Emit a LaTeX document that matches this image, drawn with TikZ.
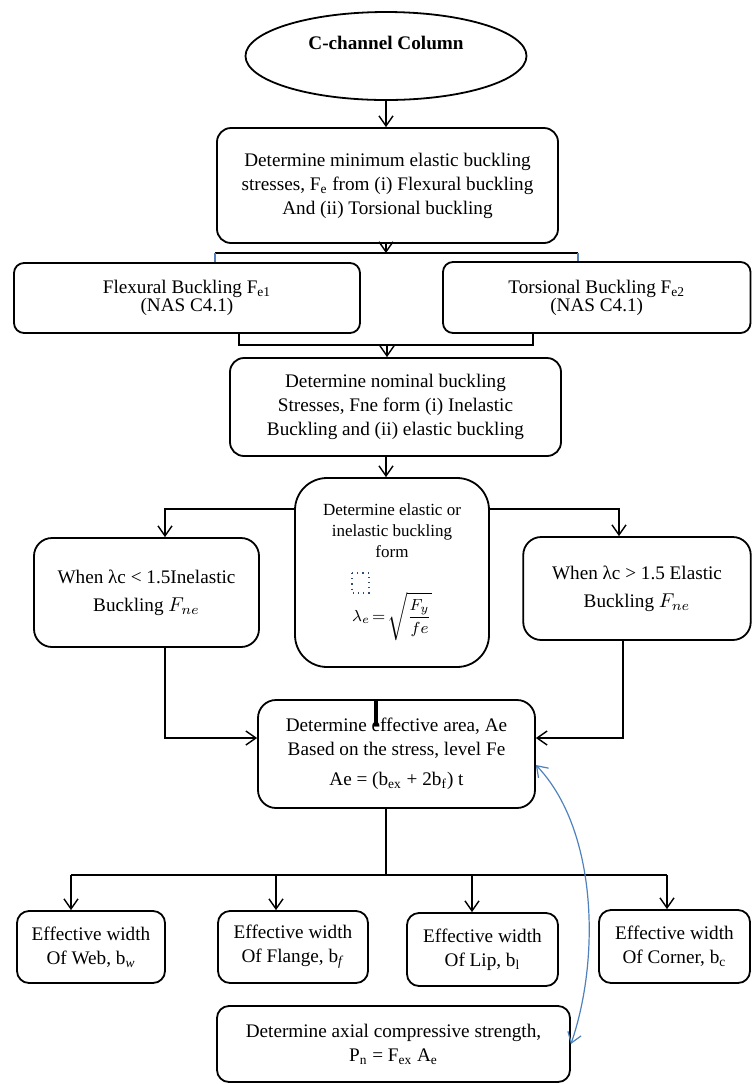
\documentclass[tikz,border=0pt]{standalone}
\usepackage{fontspec}
\setmainfont{Liberation Serif}
\usetikzlibrary{shapes.geometric,arrows.meta}
\definecolor{wordblue}{HTML}{4F81BD}

\begin{document}
\begin{tikzpicture}[x=0.5pt,y=-0.5pt,
  every node/.style={font=\fontsize{9.6}{12}\selectfont, align=center, inner sep=0pt},
  box/.style 2 args={draw, line width=0.9pt, rounded corners=7pt, minimum width=#1*0.5pt, minimum height=#2*0.5pt},
  arr/.style={line width=0.7pt, -{Straight Barb[length=5pt,width=7pt]}},
  link/.style={line width=0.7pt},
  tick/.style={wordblue, line width=0.6pt},
  back/.style={wordblue, line width=0.6pt, {Straight Barb[length=5pt,width=7pt]}-{Straight Barb[length=5pt,width=7pt]}}]
  \useasboundingbox (0,0) rectangle (752,1084);

  \node[draw, ellipse, line width=0.9pt, minimum width=140.5pt, minimum height=44pt,
        font=\fontsize{9.6}{12}\selectfont\bfseries] (col) at (386,56) {\raisebox{13pt}{C-channel Column}};
  \node[box={341}{115}] (minst) at (387.5,185.5) {Determine minimum elastic buckling\\stresses, F\textsubscript{e} from (i) Flexural buckling\\And (ii) Torsional buckling};
  \node[box={346}{70}, rounded corners=5pt, font=\fontsize{9.6}{9}\selectfont] (flex) at (187,298) {Flexural Buckling F\textsubscript{e1}\\(NAS C4.1)};
  \node[box={307.5}{71}, rounded corners=5pt, font=\fontsize{9.6}{9}\selectfont] (tors) at (596.75,297.5) {Torsional Buckling F\textsubscript{e2}\\(NAS C4.1)};
  \node[box={331}{98}] (nom) at (395.5,407) {Determine nominal buckling\\Stresses, Fne form (i) Inelastic\\Buckling and (ii) elastic buckling};
  \node[box={194}{189}, rounded corners=16pt, font=\fontsize{8.5}{10.5}\selectfont] (dec) at (392,572.5)
    {Determine elastic or\\inelastic buckling\\form\\[16pt]$\lambda_e\!=\!\sqrt{\displaystyle\frac{F_y}{fe}}$};
  \node[box={225}{109}, rounded corners=9pt] (inel) at (146.5,592.5) {When λc < 1.5Inelastic\\[2pt]Buckling $F_{ne}$};
  \node[box={227.5}{103}, rounded corners=9pt] (elas) at (637,588.5) {When λc > 1.5 Elastic\\[2pt]Buckling $F_{ne}$};
  \node[box={277}{108}, rounded corners=9pt] (ea) at (396.5,754) {Determine effective area, Ae\\Based on the stress, level Fe\\[3pt]Ae = (b\textsubscript{ex} + 2b\textsubscript{f}) t};
  \node[box={148}{72}, rounded corners=6pt] (web) at (91,947) {Effective width\\Of Web, b\textsubscript{\textit{w}}};
  \node[box={150}{72}, rounded corners=6pt] (flan) at (293,947) {Effective width\\Of Flange, b\textsubscript{\textit{f}}};
  \node[box={151}{73}, rounded corners=6pt] (lip) at (482.5,949.5) {Effective width\\Of Lip, b\textsubscript{l}};
  \node[box={151}{73}, rounded corners=6pt] (corn) at (674.5,946.5) {Effective width\\Of Corner, b\textsubscript{c}};
  \node[box={353}{76}, rounded corners=6pt] (axial) at (393.5,1044) {Determine axial compressive strength,\\P\textsubscript{n} = F\textsubscript{ex} A\textsubscript{e}};

  \draw[dotted, wordblue!60!black, line width=0.6pt] (352,573) rectangle (369,593);

  \coordinate (tl) at (215,253);
  \coordinate (tr) at (578,253);
  \coordinate (tm) at (386,253);
  \coordinate (bl) at (239,345);
  \coordinate (br) at (533,345);
  \coordinate (bm) at (387,345);
  \coordinate (dl) at (165,509);
  \coordinate (dr) at (619,509);
  \coordinate (il) at (165,738);
  \coordinate (ir) at (623,738);
  \coordinate (stub) at (376,726);
  \coordinate (hb) at (386,875);
  \coordinate (hl) at (71,875);
  \coordinate (hr) at (667,875);

  \draw[arr] (col) -- (col |- minst.north);
  \draw[arr] (minst.south -| tm) -- (tm);
  \draw[link] (tl) -- (tr);
  \draw[tick] (tl) -- (tl |- flex.north);
  \draw[tick] (tr) -- (tr |- tors.north);
  \draw[link] (bl |- flex.south) -- (bl) -- (br) -- (br |- tors.south);
  \draw[arr] (bm) -- (bm |- nom.north);
  \draw[arr] (nom.south -| col) -- (dec.north -| col);
  \draw[arr] (dec.west |- dl) -- (dl) -- (dl |- inel.north);
  \draw[arr] (dec.east |- dr) -- (dr) -- (dr |- elas.north);
  \draw[arr] (il |- inel.south) -- (il) -- (il -| ea.west);
  \draw[arr] (ir |- elas.south) -- (ir) -- (ir -| ea.east);
  \draw[line width=1.6pt] (stub |- ea.north) -- (stub);
  \draw[link] (ea.south -| hb) -- (hb);
  \draw[link] (hl) -- (hr);
  \foreach \b/\x in {web/71,flan/276,lip/472,corn/667}{
    \path (\x,875) coordinate (drop);
    \draw[arr] (drop) -- (drop |- \b.north);
  }
  \draw[back] (axial.east) .. controls (600,960) and (598,830) .. ([yshift=-5.5pt]ea.east);
\end{tikzpicture}
\end{document}
